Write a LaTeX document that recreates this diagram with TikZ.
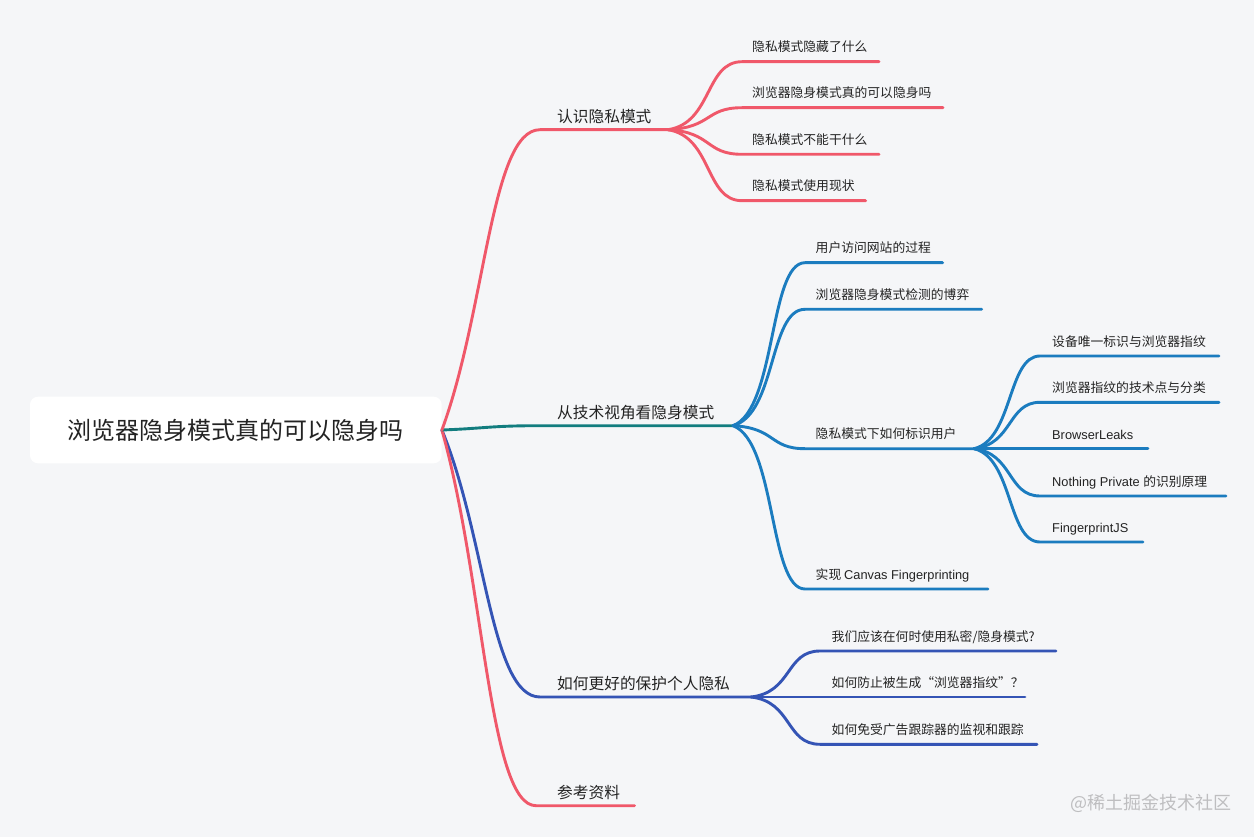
\documentclass[tikz,border=0pt]{standalone}
\usepackage{fontspec}
\setmainfont{Noto Sans CJK SC}
\newfontfamily\lat{Liberation Sans}
\definecolor{bg}{RGB}{245,246,248}
\definecolor{cred}{RGB}{240,88,106}
\definecolor{cteal}{RGB}{18,125,127}
\definecolor{cblue}{RGB}{27,124,191}
\definecolor{cnavy}{RGB}{52,84,181}
\definecolor{txt}{RGB}{35,35,35}
\definecolor{wm}{RGB}{190,190,192}
\begin{document}
\begin{tikzpicture}[x=1pt,y=-1pt,
  link/.style={line width=2.9pt, line cap=round},
  rootbox/.style={fill=white, rounded corners=8pt, minimum width=411.7pt, minimum height=66.6pt, inner sep=0pt, text=txt, font=\fontsize{24}{28}\selectfont},
  lvone/.style={anchor=base west, inner sep=0pt, text=txt, font=\fontsize{15.7}{18}\selectfont},
  lvtwo/.style={anchor=base west, inner sep=0pt, text=txt, font=\fontsize{12.8}{15}\selectfont},
  wmark/.style={anchor=base west, inner sep=0pt, text=wm, font=\fontsize{18}{20}\selectfont}]
\useasboundingbox (0,0) rectangle (1254,837);
\fill[bg] (0,0) rectangle (1254,837);

% root
\node[rootbox] (root) at (235.85,430) {浏览器隐身模式真的可以隐身吗};

% level-1 coordinates
\coordinate (s1) at (540,129.7);  \coordinate (J1) at (668,129.7);
\coordinate (s2) at (540,425.7);  \coordinate (J2) at (733,425.7);
\coordinate (s3) at (540,697);    \coordinate (J3) at (751,697);
\coordinate (s4) at (536,805.7);  \coordinate (e4) at (634.5,805.7);

% level-1 connectors
\draw[link,cnavy] (root.east) .. controls +(44.2,106.8) and +(-49.2,0) .. (s3) -- (J3);
\draw[link,cred] (root.east) .. controls +(42.4,150.3) and +(-47.2,0) .. (s4) -- (e4);
\draw[link,cteal] (root.east) .. controls +(44.2,-1.7) and +(-49,0) .. (s2) -- (J2);
\draw[link,cred] (root.east) .. controls +(44.2,-120.1) and +(-49.2,0) .. (s1) -- (J1);

% level-1 texts
\node[lvone] (t1) at (557,122.2) {认识隐私模式};
\node[lvone] (t2) at (557,418.2) {从技术视角看隐身模式};
\node[lvone] (t3) at (557,689.5) {如何更好的保护个人隐私};
\node[lvone] (t4) at (557,798.2) {参考资料};

% ---- branch 1 children
\coordinate (c1s) at (742,61.7);  \coordinate (c1e) at (879,61.7);
\coordinate (c2s) at (742,107.7); \coordinate (c2e) at (943,107.7);
\coordinate (c3s) at (742,154.3); \coordinate (c3e) at (879,154.3);
\coordinate (c4s) at (742,200.7); \coordinate (c4e) at (865.7,200.7);
\draw[link,cred] (J1) .. controls +(44.4,-6.8) and +(-37,0) .. (c1s) -- (c1e);
\draw[link,cred] (J1) .. controls +(44.4,-2.2) and +(-37,0) .. (c2s) -- (c2e);
\draw[link,cred] (J1) .. controls +(44.4,2.5) and +(-37,0) .. (c3s) -- (c3e);
\draw[link,cred] (J1) .. controls +(44.4,7.1) and +(-37,0) .. (c4s) -- (c4e);
\node[lvtwo] (c1) at (752,51.8) {隐私模式隐藏了什么};
\node[lvtwo] (c2) at (752,97.8) {浏览器隐身模式真的可以隐身吗};
\node[lvtwo] (c3) at (752,144.4) {隐私模式不能干什么};
\node[lvtwo] (c4) at (752,190.8) {隐私模式使用现状};

% ---- branch 2 children
\coordinate (b1s) at (805,262.7); \coordinate (b1e) at (942.7,262.7);
\coordinate (b2s) at (805,309.3); \coordinate (b2e) at (981.7,309.3);
\coordinate (b3s) at (805,448.7); \coordinate (J4) at (974,448.7);
\coordinate (b4s) at (805,589);   \coordinate (b4e) at (988,589);
\draw[link,cblue] (J2) .. controls +(43.2,-16.3) and +(-36,0) .. (b1s) -- (b1e);
\draw[link,cblue] (J2) .. controls +(43.2,-11.6) and +(-36,0) .. (b2s) -- (b2e);
\draw[link,cblue] (J2) .. controls +(43.2,2.3) and +(-36,0) .. (b3s) -- (J4);
\draw[link,cblue] (J2) .. controls +(43.2,16.3) and +(-36,0) .. (b4s) -- (b4e);
\node[lvtwo] (b1) at (815.5,252.7) {用户访问网站的过程};
\node[lvtwo] (b2) at (815.5,299.3) {浏览器隐身模式检测的博弈};
\node[lvtwo] (b3) at (815.5,438.7) {隐私模式下如何标识用户};
\node[lvtwo] (b4) at (815.5,579) {实现 {\lat Canvas Fingerprinting}};

% ---- level-3 children
\coordinate (d1s) at (1040,356);   \coordinate (d1e) at (1219,356);
\coordinate (d2s) at (1040,402.3); \coordinate (d2e) at (1219,402.3);
\coordinate (d3s) at (1040,448.7); \coordinate (d3e) at (1148,448.7);
\coordinate (d4s) at (1040,496);   \coordinate (d4e) at (1226,496);
\coordinate (d5s) at (1040,542);   \coordinate (d5e) at (1143,542);
\draw[link,cblue] (J4) .. controls +(39,-9.3) and +(-32.5,0) .. (d1s) -- (d1e);
\draw[link,cblue] (J4) .. controls +(39,-4.6) and +(-32.5,0) .. (d2s) -- (d2e);
\draw[link,cblue] (J4) -- (d3s) -- (d3e);
\draw[link,cblue] (J4) .. controls +(39,4.7) and +(-32.5,0) .. (d4s) -- (d4e);
\draw[link,cblue] (J4) .. controls +(39,9.3) and +(-32.5,0) .. (d5s) -- (d5e);
\node[lvtwo] (d1) at (1052,346) {设备唯一标识与浏览器指纹};
\node[lvtwo] (d2) at (1052,392.3) {浏览器指纹的技术点与分类};
\node[lvtwo] (d3) at (1052,439) {\lat BrowserLeaks};
\node[lvtwo] (d4) at (1052,486) {{\lat Nothing Private }的识别原理};
\node[lvtwo] (d5) at (1052,532) {\lat FingerprintJS};

% ---- branch 3 children
\coordinate (e1s) at (820,651);   \coordinate (e1e) at (1056,651);
\coordinate (e2s) at (820,697);   \coordinate (e2e) at (1025,697);
\coordinate (e3s) at (820,744.3); \coordinate (e3e) at (1037,744.3);
\draw[link,cnavy] (J3) .. controls +(41.4,-4.6) and +(-34.5,0) .. (e1s) -- (e1e);
\draw[link,cnavy] (J3) -- (e2s) -- (e2e);
\draw[link,cnavy] (J3) .. controls +(41.4,4.7) and +(-34.5,0) .. (e3s) -- (e3e);
\node[lvtwo] (e1) at (831.5,641) {我们应该在何时使用私密/隐身模式?};
\node[lvtwo] (e2) at (831.5,687) {如何防止被生成“浏览器指纹”？};
\node[lvtwo] (e3) at (831.5,734.3) {如何免受广告跟踪器的监视和跟踪};

% watermark
\node[wmark] (wmk) at (1070,809.8) {@稀土掘金技术社区};
\end{tikzpicture}
\end{document}
